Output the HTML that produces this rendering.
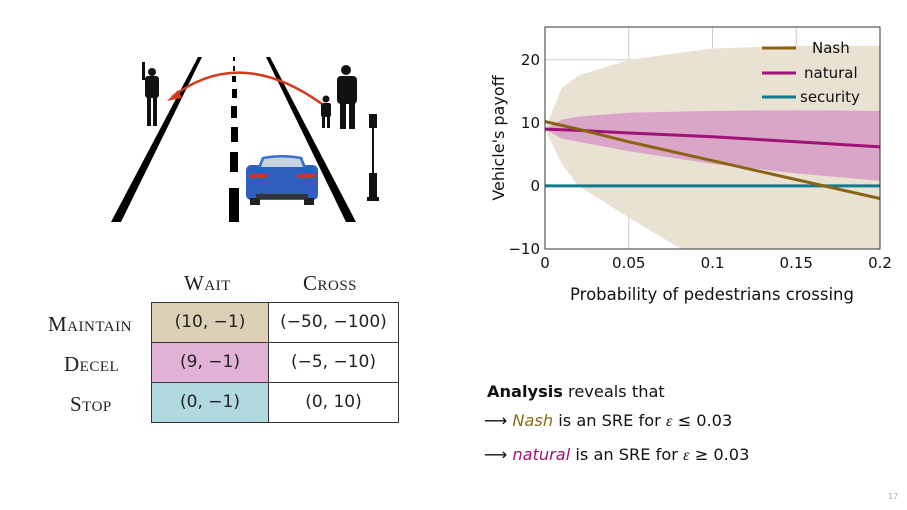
<!DOCTYPE html>
<html><head><meta charset="utf-8"><style>
body{margin:0;background:#fff;}
#root{position:relative;width:907px;height:510px;overflow:hidden;font-family:"DejaVu Sans","Liberation Sans",sans-serif;}
.sc{font-family:"Liberation Serif","DejaVu Serif",serif;font-variant:small-caps;font-size:21px;letter-spacing:0.5px;position:absolute;color:#222;}
.cell{position:absolute;box-sizing:border-box;border:1px solid #333;text-align:center;line-height:39px;font-size:17px;color:#222;}
.txt{position:absolute;font-size:16.2px;color:#111;white-space:nowrap;}
</style></head><body>
<div id="root">
<svg width="907" height="510" style="position:absolute;left:0;top:0">
 <polygon points="198,57 202,57 121,222 111,222" fill="#000"/>
 <polygon points="266,57 270,57 356,222 346,222" fill="#000"/>
 <g fill="#000">
  <rect x="233" y="57" width="2" height="4"/><rect x="233" y="66" width="2" height="5"/><rect x="232" y="76" width="4" height="6"/>
  <rect x="232" y="89" width="5" height="9"/><rect x="231" y="106" width="6" height="12"/><rect x="231" y="127" width="7" height="15"/>
  <rect x="230" y="152" width="8" height="20"/><rect x="229" y="188" width="10" height="34"/>
 </g>
 <g>
  <rect x="246" y="165" width="72" height="35" rx="5" fill="#2f5fbf"/>
  <path d="M258,167 L262,157 Q282,153 302,157 L306,167 Z" fill="#3a6fd0"/>
  <path d="M261,167 L264,159 Q282,156 300,159 L303,167 Z" fill="#c9d3e0"/>
  <rect x="249" y="174" width="18" height="4" fill="#c33"/><rect x="297" y="174" width="18" height="4" fill="#c33"/>
  <rect x="250" y="198" width="10" height="7" fill="#222"/><rect x="304" y="198" width="10" height="7" fill="#222"/>
  <rect x="256" y="194" width="52" height="5" fill="#333"/>
 </g>
 <g fill="#111">
  <circle cx="152" cy="72" r="4"/><rect x="145" y="76" width="14" height="22" rx="3"/><rect x="147" y="96" width="4" height="30"/><rect x="153" y="96" width="4" height="30"/><rect x="142" y="62" width="3" height="18"/>
 </g>
 <g fill="#111">
  <circle cx="346" cy="70" r="5"/><rect x="337" y="76" width="20" height="28" rx="4"/><rect x="340" y="102" width="6" height="27"/><rect x="349" y="102" width="6" height="27"/>
  <circle cx="326" cy="99" r="3.5"/><rect x="321" y="103" width="10" height="14" rx="2"/><rect x="322" y="115" width="3" height="13"/><rect x="327" y="115" width="3" height="13"/>
 </g>
 <g fill="#111">
  <rect x="369" y="114" width="8" height="14"/><rect x="372" y="128" width="2" height="45"/><rect x="369" y="173" width="8" height="24"/><rect x="367" y="197" width="12" height="4"/>
 </g>
 <path d="M322,104 Q240,45 172,97" fill="none" stroke="#d23a1a" stroke-width="2.5"/>
 <polygon points="167,101 178,90 182,98" fill="#d23a1a"/>
</svg>

<div class="sc" style="left:184px;top:271px">Wait</div>
<div class="sc" style="left:303px;top:271px">Cross</div>
<div class="sc" style="left:48px;top:312px">Maintain</div>
<div class="sc" style="left:64px;top:352px">Decel</div>
<div class="sc" style="left:70px;top:392px">Stop</div>
<div class="cell" style="left:151px;top:302px;width:118px;height:41px;background:#dcd0b6">(10, −1)</div>
<div class="cell" style="left:268px;top:302px;width:131px;height:41px">(−50, −100)</div>
<div class="cell" style="left:151px;top:342px;width:118px;height:41px;background:#e2b2d6">(9, −1)</div>
<div class="cell" style="left:268px;top:342px;width:131px;height:41px">(−5, −10)</div>
<div class="cell" style="left:151px;top:382px;width:118px;height:41px;background:#b1d9e0">(0, −1)</div>
<div class="cell" style="left:268px;top:382px;width:131px;height:41px">(0, 10)</div>

<div class="txt" style="left:487px;top:382px"><b>Analysis</b> reveals that</div>
<div class="txt" style="left:484px;top:411px">⟶ <i style="color:#8a6a14">Nash</i> is an SRE for <i style="font-family:'Liberation Serif',serif">ε</i> ≤ 0.03</div>
<div class="txt" style="left:484px;top:445px">⟶ <i style="color:#a0127a">natural</i> is an SRE for <i style="font-family:'Liberation Serif',serif">ε</i> ≥ 0.03</div>
<div class="txt" style="left:888px;top:492px;font-size:8px;color:#aaa">17</div>

<svg id="chart" width="907" height="510" style="position:absolute;left:0;top:0"></svg>
</div>
<script>
const xs=[0,0.01,0.02,0.05,0.1,0.15,0.2];
const nash=[10.2,9.6,9,7,4,1,-2];
const natural=[9,8.9,8.8,8.4,7.8,7,6.2];
const security=[0,0,0,0,0,0,0];
const nashUpper=[9,15.5,17.5,20,21.8,22.2,22.2];
const nashLower=[9,3.5,0,-5,-13,-18,-22];
const natUpper=[9,10.5,11,11.6,11.9,12,11.9];
const natLower=[9,7.5,7,5.5,3.5,2,0.8];
const xTicks=[0,0.05,0.1,0.15,0.2];
const xTickLabels=["0","0.05","0.1","0.15","0.2"];
const yTicks=[-10,0,10,20];
const yTickLabels=["−10","0","10","20"];
const NS="http://www.w3.org/2000/svg";
const svg=document.getElementById('chart');
const L=545,R=880,T=27,B=249;
const X=v=>L+(v-0)/(0.2)*(R-L);
const Y=v=>B-(v+10)/35.2*(B-T);
function mk(t,a,p){const e=document.createElementNS(NS,t);for(const k in a)e.setAttribute(k,a[k]);(p||svg).appendChild(e);return e;}
const defs=mk('defs',{});const cp=mk('clipPath',{id:'cp'},defs);mk('rect',{x:L,y:T,width:R-L,height:B-T},cp);
xTicks.forEach((t,i)=>{if(i>0&&i<xTicks.length-1){const g=mk('line',{x1:X(t),x2:X(t),y1:T,y2:B,stroke:'#ccc','stroke-width':1});

}
const l=mk('text',{x:X(t),y:B+19,'text-anchor':'middle','font-size':15,fill:'#111','font-family':'DejaVu Sans, sans-serif'});l.textContent=xTickLabels[i];

});
yTicks.forEach((t,i)=>{if(t>-10){const g=mk('line',{x1:L,x2:R,y1:Y(t),y2:Y(t),stroke:'#ccc','stroke-width':1});

}
const l=mk('text',{x:L-5,y:Y(t)+5,'text-anchor':'end','font-size':15,fill:'#111','font-family':'DejaVu Sans, sans-serif'});l.textContent=yTickLabels[i];

});
function band(u,lo,fill,name){let d='M'+xs.map((x,i)=>X(x)+','+Y(u[i])).join(' L');for(let i=xs.length-1;i>=0;i--)d+=' L'+X(xs[i])+','+Y(lo[i]);
const p=mk('path',{d:d+'Z',fill:fill,'clip-path':'url(#cp)'});

}
band(nashUpper,nashLower,'#e9e1d2','nash-band');
band(natUpper,natLower,'#d9a6c8','natural-band');
function line(v,c,name){const p=mk('polyline',{points:xs.map((x,i)=>X(x)+','+Y(v[i])).join(' '),fill:'none',stroke:c,'stroke-width':3,'clip-path':'url(#cp)'});

}
line(security,'#117a8c','security-line');
line(natural,'#a0127a','natural-line');
line(nash,'#8a6414','nash-line');
const fr=mk('rect',{x:L,y:T,width:R-L,height:B-T,fill:'none',stroke:'#333','stroke-width':1});


[['Nash','#8a6414',48],['natural','#a0127a',73],['security','#117a8c',97]].forEach(([n,c,y])=>{
const g=mk('g',{});


mk('line',{x1:762,x2:796,y1:y,y2:y,stroke:c,'stroke-width':3},g);
const t=mk('text',{x:n==='Nash'?812:n==='natural'?804:800,y:y+5,'font-size':15,fill:'#111','font-family':'DejaVu Sans, sans-serif'},g);t.textContent=n;});
const xt=mk('text',{x:712,y:300,'text-anchor':'middle','font-size':16.5,fill:'#111','font-family':'DejaVu Sans, sans-serif'});xt.textContent='Probability of pedestrians crossing';


const yt=mk('text',{x:0,y:0,'text-anchor':'middle','font-size':16,fill:'#111','font-family':'DejaVu Sans, sans-serif',transform:'translate(504,138) rotate(-90)'});yt.textContent="Vehicle's payoff";


</script>
</body></html>
